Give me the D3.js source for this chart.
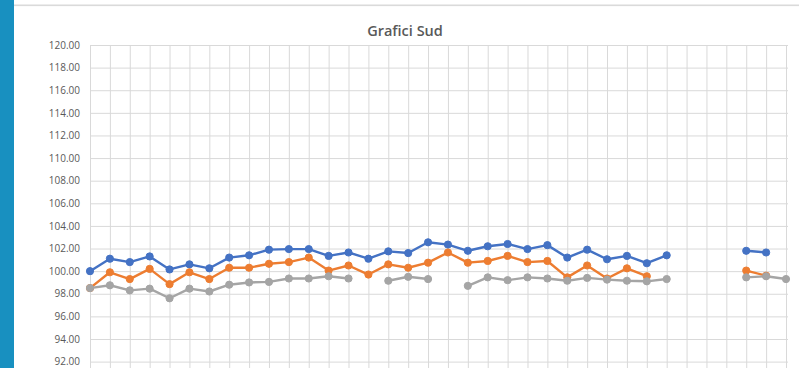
<!DOCTYPE html>
<html>
<head>
<meta charset="utf-8">
<script src="https://cdn.jsdelivr.net/npm/d3@7"></script>
<style>
  html, body { margin: 0; padding: 0; background: #fff; overflow: hidden; }
  svg { display: block; }
</style>
</head>
<body>
<svg id="chart" width="799" height="368"></svg>
<script>
// Categories (36 periods) and the three series; null marks a missing value
const categories = d3.range(1, 37).map(String);

const serieBlu = [
  100.0, 101.1, 100.8, 101.3, 100.15, 100.6, 100.25, 101.2, 101.4, 101.9,
  101.95, 101.95, 101.35, 101.65, 101.1, 101.75, 101.6, 102.55, 102.35, 101.8,
  102.2, 102.4, 101.95, 102.3, 101.2, 101.9, 101.05, 101.35, 100.7, 101.4,
  null, null, null, 101.8, 101.65, null
];

const serieArancio = [
  98.5, 99.9, 99.3, 100.2, 98.85, 99.9, 99.3, 100.3, 100.3, 100.65,
  100.8, 101.2, 100.05, 100.5, 99.7, 100.6, 100.3, 100.75, 101.65, 100.75,
  100.9, 101.35, 100.8, 100.9, 99.45, 100.5, 99.35, 100.25, 99.55, null,
  null, null, null, 100.05, 99.6, null
];

const serieGrigia = [
  98.5, 98.75, 98.3, 98.45, 97.6, 98.45, 98.2, 98.8, 99.0, 99.05,
  99.35, 99.35, 99.55, 99.35, null, 99.15, 99.5, 99.3, null, 98.7,
  99.45, 99.2, 99.45, 99.35, 99.15, 99.4, 99.25, 99.15, 99.1, 99.3,
  null, null, null, 99.45, 99.55, 99.3
];

const yTicks = [92, 94, 96, 98, 100, 102, 104, 106, 108, 110, 112, 114, 116, 118, 120];

const titolo = "Grafici Sud";

const series = [
  { name: "Serie1", values: serieBlu, color: "#4472C4" },
  { name: "Serie2", values: serieArancio, color: "#ED7D31" },
  { name: "Serie3", values: serieGrigia, color: "#A5A5A5" }
];

const svg = d3.select("#chart");
const W = 799, H = 368;

// Page frame: side band and top rule
svg.append("rect").attr("x", 0).attr("y", 0).attr("width", 14).attr("height", H).attr("fill", "#1890C0");
svg.append("rect").attr("x", 14).attr("y", 4.5).attr("width", W - 14).attr("height", 1.6).attr("fill", "#dadada");

// Plot geometry
const plotLeft = 90, plotRight = 786;
const plotTop = 45;
const y = d3.scaleLinear().domain([92, 120]).range([361.6, plotTop]);
const plotBottom = y(90);
const x = d3.scalePoint().domain(categories).range([plotLeft, plotRight]);

// Horizontal gridlines + labels
const yAxis = d3.axisLeft(y)
  .tickValues(yTicks)
  .tickSize(-(plotRight - plotLeft + 2))
  .tickPadding(10)
  .tickFormat(d3.format(".2f"));

const gy = svg.append("g").attr("transform", `translate(${plotLeft},0)`).call(yAxis);
gy.select(".domain").remove();
gy.selectAll(".tick line").attr("stroke", "#d9d9d9").attr("stroke-width", 1);
gy.selectAll(".tick text")
  .attr("fill", "#595959")
  .style("font-family", "'Open Sans', 'Liberation Sans', sans-serif")
  .style("font-size", "10px");

// Vertical gridlines at each category
const xAxis = d3.axisBottom(x).tickSize(-(plotBottom - plotTop)).tickFormat("");
const gx = svg.append("g").attr("transform", `translate(0,${plotBottom})`).call(xAxis);
gx.select(".domain").remove();
gx.selectAll(".tick line").attr("stroke", "#d9d9d9").attr("stroke-width", 1);

// Title
svg.append("text")
  .attr("x", 405).attr("y", 36)
  .attr("text-anchor", "middle")
  .attr("fill", "#595959")
  .style("font-family", "'Open Sans', 'Liberation Sans', sans-serif")
  .style("font-weight", "600")
  .style("font-size", "14.5px")
  .text(titolo);

// Lines with markers
const line = d3.line()
  .defined(d => d.v != null)
  .x(d => x(d.c))
  .y(d => y(d.v));

series.forEach(s => {
  const pts = categories.map((c, i) => ({ c, v: s.values[i] }));
  const g = svg.append("g").attr("class", "serie");
  g.append("path")
    .datum(pts)
    .attr("fill", "none")
    .attr("stroke", s.color)
    .attr("stroke-width", 2.4)
    .attr("stroke-linejoin", "round")
    .attr("stroke-linecap", "round")
    .attr("d", line);
  g.selectAll("circle")
    .data(pts.filter(d => d.v != null))
    .join("circle")
    .attr("cx", d => x(d.c))
    .attr("cy", d => y(d.v))
    .attr("r", 3.6)
    .attr("fill", s.color)
    .attr("stroke", s.color)
    .attr("stroke-width", 1);
});
</script>
</body>
</html>
